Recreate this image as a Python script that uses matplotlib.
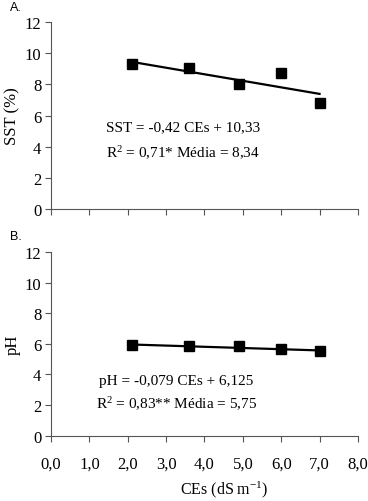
import matplotlib
matplotlib.use("Agg")
import matplotlib.pyplot as plt
import numpy as np

plt.rcParams["mathtext.fontset"] = "custom"
plt.rcParams["mathtext.rm"] = "Liberation Serif"
plt.rcParams["mathtext.it"] = "Liberation Serif:italic"
plt.rcParams["mathtext.bf"] = "Liberation Serif:bold"

ces = [2.1, 3.6, 4.9, 6.0, 7.0]
sst = [9.3, 9.05, 8.05, 8.7, 6.8]
ph = [5.95, 5.85, 5.85, 5.65, 5.55]
sst_coef = (-0.42, 10.33)
ph_coef = (-0.079, 6.125)
xticks = [0, 1, 2, 3, 4, 5, 6, 7, 8]
xticklabels = ["0,0", "1,0", "2,0", "3,0", "4,0", "5,0", "6,0", "7,0", "8,0"]
yticks = [0, 2, 4, 6, 8, 10, 12]

serif = "Liberation Serif"
sans = "Liberation Sans"

fig = plt.figure(figsize=(3.68, 5.02), dpi=100)
ax1 = fig.add_axes([0.1386, 0.5817, 0.834, 0.3723])
ax2 = fig.add_axes([0.1386, 0.130, 0.834, 0.366])

def style(ax, show_xlabels):
    ax.set_xlim(0, 8)
    ax.set_ylim(0, 12)
    ax.set_xticks(xticks)
    ax.set_yticks(yticks)
    ax.set_yticklabels([str(v) for v in yticks], family=serif, fontsize=12)
    if show_xlabels:
        ax.set_xticklabels(xticklabels, family=serif, fontsize=12)
    else:
        ax.set_xticklabels([])
    for s in ["top", "right"]:
        ax.spines[s].set_visible(False)
    for s in ["left", "bottom"]:
        ax.spines[s].set_color("#555555")
        ax.spines[s].set_linewidth(0.8)
    ax.tick_params(direction="out", length=4, width=0.8, color="#555555", pad=3)
    ax.tick_params(axis="x", pad=10)

# Top panel
xs = np.array([ces[0] - 0.05, ces[-1]])
ax1.plot(ces, sst, "s", color="black", markersize=6.5, zorder=3)
ax1.plot(xs, sst_coef[0] * xs + sst_coef[1], color="black", lw=1.6)
style(ax1, False)
ax1.set_ylabel("SST (%)", family=serif, fontsize=12, labelpad=3)
ax1.text(1.43, 5.26, "SST = -0,42 CEs + 10,33", family=serif, fontsize=11, va="center")
ax1.text(1.43, 3.66, r"R$^2$ = 0,71* Média = 8,34", family=serif, fontsize=11, va="center")

# Bottom panel
xs2 = np.array([ces[0], ces[-1]])
ax2.plot(ces, ph, "s", color="black", markersize=6.5, zorder=3)
ax2.plot(xs2, ph_coef[0] * xs2 + ph_coef[1], color="black", lw=1.6)
style(ax2, True)
ax2.set_ylabel("pH", family=serif, fontsize=12, labelpad=3)
ax2.text(1.25, 3.6, "pH = -0,079 CEs + 6,125", family=serif, fontsize=11, va="center")
ax2.text(1.17, 2.14, r"R$^2$ = 0,83** Média = 5,75", family=serif, fontsize=11, va="center")

fig.text(224 / 368, 1 - 490 / 502, r"CEs (dS m$^{-1}$)", family=serif, fontsize=11.5,
         ha="center", va="center")
fig.text(10 / 368, 1 - 8 / 502, "A.", family=sans, fontsize=9, va="center")
fig.text(10 / 368, 1 - 237 / 502, "B.", family=sans, fontsize=9, va="center")

fig.savefig("out.png", dpi=100)
